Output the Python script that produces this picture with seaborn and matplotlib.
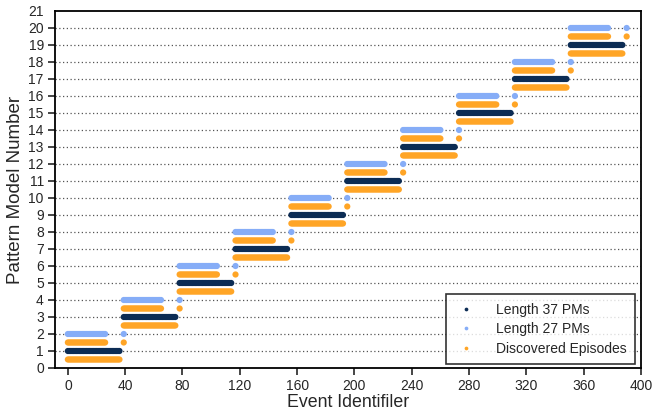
import numpy as np
import pandas as pd
import matplotlib
matplotlib.use("Agg")
import matplotlib.pyplot as plt
import seaborn as sns

# block start event ids, one block per pair of pattern models
block_starts = [0, 39, 78, 117, 156, 195, 234, 273, 312, 351]
long_rows = [1, 3, 5, 7, 9, 11, 13, 15, 17, 19]
short_rows = [2, 4, 6, 8, 10, 12, 14, 16, 18, 20]
long_len = 37
short_len = 27
extra_offset = 39  # lone event after the short pattern

series_names = ["Length 37 PMs", "Length 27 PMs", "Discovered Episodes"]
palette = {"Length 37 PMs": "#0c2c54",
           "Length 27 PMs": "#86adf7",
           "Discovered Episodes": "#ffa526"}

rows = []
for s, lr, sr in zip(block_starts, long_rows, short_rows):
    long_ids = list(range(s, s + long_len))
    short_ids = list(range(s, s + short_len)) + [s + extra_offset]
    rows += [(x, lr, series_names[0]) for x in long_ids]
    rows += [(x, sr, series_names[1]) for x in short_ids]
    rows += [(x, lr - 0.5, series_names[2]) for x in long_ids]
    rows += [(x, lr + 0.5, series_names[2]) for x in short_ids]

df = pd.DataFrame(rows, columns=["event", "pm", "series"])

sns.set_style("white")
plt.rcParams['font.family'] = ['Liberation Sans', 'DejaVu Sans']

fig = plt.figure(figsize=(6.53, 4.16), dpi=100)
ax = fig.add_axes([0.0842, 0.1154, 0.8974, 0.8582])

# dotted grid lines behind the points
for y in range(1, 21):
    ax.axhline(y, color="#555555", linestyle=(0, (1, 2)), linewidth=0.9, zorder=0)

sns.scatterplot(data=df, x="event", y="pm", hue="series", hue_order=series_names,
                palette=palette, s=20, linewidth=0, ax=ax, zorder=2)

ax.set_xlim(-9, 400)
ax.set_ylim(0, 21)
ax.set_xticks(range(0, 401, 40))
ax.set_yticks(range(0, 22))
ax.tick_params(axis="both", direction="out", length=5, width=1.2, labelsize=10,
               left=True, bottom=True, pad=3)
ax.yaxis.get_major_ticks()[-1].tick1line.set_visible(False)
for sp in ax.spines.values():
    sp.set_color("black")
    sp.set_linewidth(1.3)

ax.set_xlabel("Event Identifiler", fontsize=12.8, labelpad=1)
ax.set_ylabel("Pattern Model Number", fontsize=13.5, labelpad=3)

leg = ax.legend(loc="lower right", bbox_to_anchor=(0.99, 0.011), fontsize=10,
                frameon=True, fancybox=False, markerscale=0.6,
                handlelength=1.6, handletextpad=1.4, borderpad=0.6,
                labelspacing=0.4, borderaxespad=0)
leg.get_frame().set_edgecolor("black")
leg.get_frame().set_linewidth(1.2)
leg.set_title(None)

fig.savefig("out.png", dpi=100)
